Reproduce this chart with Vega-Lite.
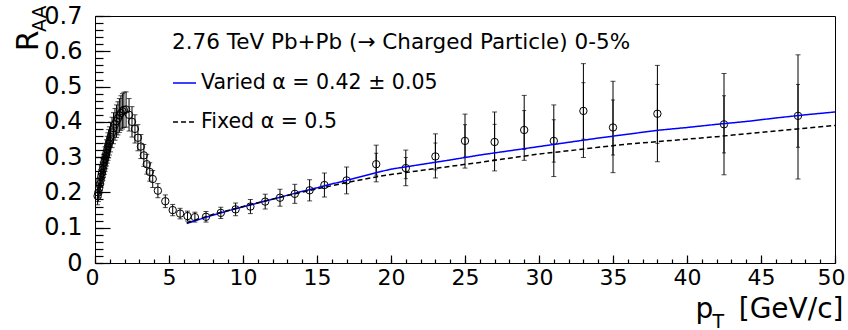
{
  "$schema": "https://vega.github.io/schema/vega-lite/v6.json",
  "width": 740,
  "height": 247,
  "autosize": {"type": "none"},
  "padding": {"left": 95, "top": 16, "right": 13, "bottom": 67},
  "background": "white",
  "config": {
    "view": {"stroke": "black", "strokeWidth": 1},
    "font": "DejaVu Sans",
    "axis": {
      "labelFont": "DejaVu Sans",
      "titleFont": "DejaVu Sans",
      "labelColor": "black",
      "titleColor": "black",
      "titleFontWeight": "normal",
      "tickColor": "black",
      "tickWidth": 1.2,
      "tickOpacity": 1,
      "grid": false,
      "domain": false,
      "labelFlush": false,
      "labelOverlap": false,
      "zindex": 1
    },
    "legend": {
      "orient": "none",
      "legendX": 77,
      "legendY": 16,
      "titleFont": "DejaVu Sans",
      "titleFontSize": 21.5,
      "titleFontWeight": "normal",
      "titleColor": "black",
      "titleLimit": 700,
      "titlePadding": 17,
      "labelFont": "DejaVu Sans",
      "labelFontSize": 20.5,
      "labelColor": "black",
      "labelLimit": 500,
      "labelOffset": 4,
      "symbolType": "stroke",
      "symbolSize": 529,
      "symbolStrokeWidth": 1.5,
      "rowPadding": 16,
      "padding": 0
    }
  },
  "datasets": {
    "pts": [
      {"pt": 0.175, "r": 0.19, "lo": 0.165, "hi": 0.215},
      {"pt": 0.225, "r": 0.2, "lo": 0.174, "hi": 0.226},
      {"pt": 0.275, "r": 0.212, "lo": 0.185, "hi": 0.239},
      {"pt": 0.325, "r": 0.224, "lo": 0.196, "hi": 0.252},
      {"pt": 0.375, "r": 0.235, "lo": 0.206, "hi": 0.264},
      {"pt": 0.425, "r": 0.245, "lo": 0.215, "hi": 0.275},
      {"pt": 0.475, "r": 0.255, "lo": 0.224, "hi": 0.286},
      {"pt": 0.525, "r": 0.265, "lo": 0.233, "hi": 0.297},
      {"pt": 0.575, "r": 0.275, "lo": 0.242, "hi": 0.308},
      {"pt": 0.625, "r": 0.285, "lo": 0.251, "hi": 0.319},
      {"pt": 0.675, "r": 0.294, "lo": 0.259, "hi": 0.329},
      {"pt": 0.725, "r": 0.303, "lo": 0.267, "hi": 0.339},
      {"pt": 0.775, "r": 0.312, "lo": 0.275, "hi": 0.349},
      {"pt": 0.825, "r": 0.321, "lo": 0.283, "hi": 0.359},
      {"pt": 0.875, "r": 0.33, "lo": 0.291, "hi": 0.369},
      {"pt": 0.925, "r": 0.338, "lo": 0.298, "hi": 0.378},
      {"pt": 0.975, "r": 0.346, "lo": 0.306, "hi": 0.386},
      {"pt": 1.05, "r": 0.357, "lo": 0.315, "hi": 0.399},
      {"pt": 1.15, "r": 0.37, "lo": 0.327, "hi": 0.413},
      {"pt": 1.25, "r": 0.382, "lo": 0.338, "hi": 0.426},
      {"pt": 1.35, "r": 0.393, "lo": 0.348, "hi": 0.438},
      {"pt": 1.45, "r": 0.402, "lo": 0.356, "hi": 0.448},
      {"pt": 1.55, "r": 0.41, "lo": 0.363, "hi": 0.457},
      {"pt": 1.65, "r": 0.418, "lo": 0.37, "hi": 0.466},
      {"pt": 1.75, "r": 0.425, "lo": 0.376, "hi": 0.474},
      {"pt": 1.85, "r": 0.43, "lo": 0.38, "hi": 0.48},
      {"pt": 1.95, "r": 0.434, "lo": 0.384, "hi": 0.484},
      {"pt": 2.1, "r": 0.435, "lo": 0.385, "hi": 0.485},
      {"pt": 2.3, "r": 0.42, "lo": 0.374, "hi": 0.466},
      {"pt": 2.5, "r": 0.4, "lo": 0.357, "hi": 0.443},
      {"pt": 2.7, "r": 0.38, "lo": 0.34, "hi": 0.42},
      {"pt": 2.9, "r": 0.355, "lo": 0.318, "hi": 0.392},
      {"pt": 3.1, "r": 0.33, "lo": 0.296, "hi": 0.364},
      {"pt": 3.3, "r": 0.305, "lo": 0.274, "hi": 0.336},
      {"pt": 3.5, "r": 0.28, "lo": 0.252, "hi": 0.308},
      {"pt": 3.7, "r": 0.258, "lo": 0.232, "hi": 0.284},
      {"pt": 3.9, "r": 0.238, "lo": 0.214, "hi": 0.262},
      {"pt": 4.25, "r": 0.205, "lo": 0.185, "hi": 0.225},
      {"pt": 4.75, "r": 0.175, "lo": 0.157, "hi": 0.193},
      {"pt": 5.25, "r": 0.15, "lo": 0.134, "hi": 0.166},
      {"pt": 5.75, "r": 0.14, "lo": 0.125, "hi": 0.155},
      {"pt": 6.25, "r": 0.133, "lo": 0.119, "hi": 0.147},
      {"pt": 6.75, "r": 0.13, "lo": 0.116, "hi": 0.144},
      {"pt": 7.5, "r": 0.131, "lo": 0.116, "hi": 0.146},
      {"pt": 8.5, "r": 0.142, "lo": 0.126, "hi": 0.158},
      {"pt": 9.5, "r": 0.152, "lo": 0.134, "hi": 0.17},
      {"pt": 10.5, "r": 0.16, "lo": 0.14, "hi": 0.18},
      {"pt": 11.5, "r": 0.174, "lo": 0.153, "hi": 0.195},
      {"pt": 12.5, "r": 0.185, "lo": 0.161, "hi": 0.209},
      {"pt": 13.5, "r": 0.196, "lo": 0.169, "hi": 0.223},
      {"pt": 14.5, "r": 0.206, "lo": 0.176, "hi": 0.236},
      {"pt": 15.5, "r": 0.221, "lo": 0.187, "hi": 0.255},
      {"pt": 17, "r": 0.234, "lo": 0.196, "hi": 0.272},
      {"pt": 19, "r": 0.28, "lo": 0.23, "hi": 0.334},
      {"pt": 21, "r": 0.269, "lo": 0.219, "hi": 0.32},
      {"pt": 23, "r": 0.302, "lo": 0.241, "hi": 0.366},
      {"pt": 25, "r": 0.346, "lo": 0.269, "hi": 0.422},
      {"pt": 27, "r": 0.343, "lo": 0.261, "hi": 0.428},
      {"pt": 29, "r": 0.377, "lo": 0.291, "hi": 0.475},
      {"pt": 31, "r": 0.346, "lo": 0.245, "hi": 0.448},
      {"pt": 33, "r": 0.431, "lo": 0.299, "hi": 0.565},
      {"pt": 35, "r": 0.384, "lo": 0.256, "hi": 0.515},
      {"pt": 38, "r": 0.423, "lo": 0.287, "hi": 0.56},
      {"pt": 42.5, "r": 0.393, "lo": 0.25, "hi": 0.537},
      {"pt": 47.5, "r": 0.417, "lo": 0.238, "hi": 0.59}
    ],
    "stat": [
      {"pt": 19, "slo": 0.249, "shi": 0.311},
      {"pt": 21, "slo": 0.239, "shi": 0.299},
      {"pt": 23, "slo": 0.264, "shi": 0.34},
      {"pt": 25, "slo": 0.3, "shi": 0.392},
      {"pt": 27, "slo": 0.293, "shi": 0.393},
      {"pt": 29, "slo": 0.322, "shi": 0.432},
      {"pt": 31, "slo": 0.286, "shi": 0.406},
      {"pt": 33, "slo": 0.351, "shi": 0.511},
      {"pt": 35, "slo": 0.306, "shi": 0.462},
      {"pt": 38, "slo": 0.339, "shi": 0.506},
      {"pt": 42.5, "slo": 0.312, "shi": 0.474},
      {"pt": 47.5, "slo": 0.328, "shi": 0.506}
    ],
    "curves": [
      {"model": "Varied α = 0.42 ± 0.05", "pt": 6.2, "r": 0.112},
      {"model": "Varied α = 0.42 ± 0.05", "pt": 7, "r": 0.123},
      {"model": "Varied α = 0.42 ± 0.05", "pt": 8, "r": 0.136},
      {"model": "Varied α = 0.42 ± 0.05", "pt": 9, "r": 0.148},
      {"model": "Varied α = 0.42 ± 0.05", "pt": 10, "r": 0.159},
      {"model": "Varied α = 0.42 ± 0.05", "pt": 11, "r": 0.17},
      {"model": "Varied α = 0.42 ± 0.05", "pt": 12, "r": 0.181},
      {"model": "Varied α = 0.42 ± 0.05", "pt": 13, "r": 0.192},
      {"model": "Varied α = 0.42 ± 0.05", "pt": 14, "r": 0.203},
      {"model": "Varied α = 0.42 ± 0.05", "pt": 15, "r": 0.213},
      {"model": "Varied α = 0.42 ± 0.05", "pt": 16, "r": 0.224},
      {"model": "Varied α = 0.42 ± 0.05", "pt": 17, "r": 0.234},
      {"model": "Varied α = 0.42 ± 0.05", "pt": 18, "r": 0.245},
      {"model": "Varied α = 0.42 ± 0.05", "pt": 19, "r": 0.256},
      {"model": "Varied α = 0.42 ± 0.05", "pt": 20, "r": 0.266},
      {"model": "Varied α = 0.42 ± 0.05", "pt": 22, "r": 0.279},
      {"model": "Varied α = 0.42 ± 0.05", "pt": 24, "r": 0.292},
      {"model": "Varied α = 0.42 ± 0.05", "pt": 26, "r": 0.306},
      {"model": "Varied α = 0.42 ± 0.05", "pt": 28, "r": 0.318},
      {"model": "Varied α = 0.42 ± 0.05", "pt": 30, "r": 0.33},
      {"model": "Varied α = 0.42 ± 0.05", "pt": 32, "r": 0.342},
      {"model": "Varied α = 0.42 ± 0.05", "pt": 34, "r": 0.354},
      {"model": "Varied α = 0.42 ± 0.05", "pt": 36, "r": 0.365},
      {"model": "Varied α = 0.42 ± 0.05", "pt": 38, "r": 0.376},
      {"model": "Varied α = 0.42 ± 0.05", "pt": 40, "r": 0.384},
      {"model": "Varied α = 0.42 ± 0.05", "pt": 42, "r": 0.393},
      {"model": "Varied α = 0.42 ± 0.05", "pt": 44, "r": 0.401},
      {"model": "Varied α = 0.42 ± 0.05", "pt": 46, "r": 0.411},
      {"model": "Varied α = 0.42 ± 0.05", "pt": 48, "r": 0.42},
      {"model": "Varied α = 0.42 ± 0.05", "pt": 50, "r": 0.428},
      {"model": "Fixed α = 0.5", "pt": 6.2, "r": 0.114},
      {"model": "Fixed α = 0.5", "pt": 7, "r": 0.125},
      {"model": "Fixed α = 0.5", "pt": 8, "r": 0.138},
      {"model": "Fixed α = 0.5", "pt": 9, "r": 0.149},
      {"model": "Fixed α = 0.5", "pt": 10, "r": 0.16},
      {"model": "Fixed α = 0.5", "pt": 11, "r": 0.171},
      {"model": "Fixed α = 0.5", "pt": 12, "r": 0.181},
      {"model": "Fixed α = 0.5", "pt": 13, "r": 0.191},
      {"model": "Fixed α = 0.5", "pt": 14, "r": 0.201},
      {"model": "Fixed α = 0.5", "pt": 15, "r": 0.21},
      {"model": "Fixed α = 0.5", "pt": 16, "r": 0.219},
      {"model": "Fixed α = 0.5", "pt": 17, "r": 0.228},
      {"model": "Fixed α = 0.5", "pt": 18, "r": 0.236},
      {"model": "Fixed α = 0.5", "pt": 19, "r": 0.244},
      {"model": "Fixed α = 0.5", "pt": 20, "r": 0.251},
      {"model": "Fixed α = 0.5", "pt": 22, "r": 0.262},
      {"model": "Fixed α = 0.5", "pt": 24, "r": 0.274},
      {"model": "Fixed α = 0.5", "pt": 26, "r": 0.285},
      {"model": "Fixed α = 0.5", "pt": 28, "r": 0.297},
      {"model": "Fixed α = 0.5", "pt": 30, "r": 0.309},
      {"model": "Fixed α = 0.5", "pt": 32, "r": 0.318},
      {"model": "Fixed α = 0.5", "pt": 34, "r": 0.328},
      {"model": "Fixed α = 0.5", "pt": 36, "r": 0.337},
      {"model": "Fixed α = 0.5", "pt": 38, "r": 0.344},
      {"model": "Fixed α = 0.5", "pt": 40, "r": 0.351},
      {"model": "Fixed α = 0.5", "pt": 42, "r": 0.358},
      {"model": "Fixed α = 0.5", "pt": 44, "r": 0.366},
      {"model": "Fixed α = 0.5", "pt": 46, "r": 0.374},
      {"model": "Fixed α = 0.5", "pt": 48, "r": 0.382},
      {"model": "Fixed α = 0.5", "pt": 50, "r": 0.39}
    ]
  },
  "layer": [
    {
      "data": {"name": "pts"},
      "mark": {"type": "errorbar", "ticks": {"size": 5}, "color": "black", "thickness": 1},
      "encoding": {
        "x": {
          "field": "pt", "type": "quantitative",
          "scale": {"domain": [0, 50], "nice": false, "zero": false},
          "axis": {"orient": "bottom", "tickCount": 50, "ticks": true, "tickSize": -4, "labels": false,
                   "title": "p", "titleFontSize": 28, "titleX": 600, "titleY": 54,
                   "titleAlign": "left", "titleBaseline": "alphabetic"}
        },
        "y": {
          "field": "lo", "type": "quantitative",
          "scale": {"domain": [0, 0.7], "nice": false},
          "axis": {"orient": "left", "tickCount": 35, "ticks": true, "tickSize": -8, "labels": false, "title": null}
        },
        "y2": {"field": "hi"}
      }
    },
    {
      "data": {"name": "stat"},
      "mark": {"type": "errorbar", "ticks": {"size": 4}, "color": "black", "thickness": 1},
      "encoding": {
        "x": {
          "field": "pt", "type": "quantitative",
          "scale": {"domain": [0, 50], "nice": false, "zero": false},
          "axis": {"orient": "bottom", "ticks": false, "labels": false,
                   "title": "T", "titleFontSize": 19, "titleX": 617, "titleY": 64,
                   "titleAlign": "left", "titleBaseline": "alphabetic"}
        },
        "y": {
          "field": "slo", "type": "quantitative",
          "scale": {"domain": [0, 0.7], "nice": false},
          "axis": {"orient": "left", "ticks": false, "labels": false,
                   "title": "AA", "titleFontSize": 19, "titleAngle": -90, "titleX": -50, "titleY": -11,
                   "titleAlign": "right", "titleBaseline": "alphabetic"}
        },
        "y2": {"field": "shi"}
      }
    },
    {
      "data": {"name": "pts"},
      "mark": {"type": "point", "shape": "circle", "filled": false, "color": "black", "size": 55, "strokeWidth": 1, "opacity": 1},
      "encoding": {
        "x": {
          "field": "pt", "type": "quantitative",
          "scale": {"domain": [0, 50], "nice": false, "zero": false},
          "axis": {"orient": "bottom", "tickCount": 10, "ticks": true, "tickSize": -8, "labelFontSize": 22, "labelPadding": 12,
                   "labelFlush": true, "labelFlushOffset": 10,
                   "title": "[GeV/c]", "titleFontSize": 28, "titleX": 748, "titleY": 54,
                   "titleAlign": "right", "titleBaseline": "alphabetic"}
        },
        "y": {
          "field": "r", "type": "quantitative",
          "scale": {"domain": [0, 0.7], "nice": false},
          "axis": {"orient": "left", "tickCount": 7, "ticks": true, "tickSize": -15, "labelFontSize": 24, "labelPadding": 28,
                   "format": "~g",
                   "title": "R", "titleFontSize": 30, "titleAngle": -90, "titleX": -58, "titleY": 14,
                   "titleAlign": "right", "titleBaseline": "alphabetic"}
        }
      }
    },
    {
      "data": {"name": "curves"},
      "mark": {"type": "line", "strokeWidth": 1.5},
      "encoding": {
        "x": {"field": "pt", "type": "quantitative", "scale": {"domain": [0, 50], "nice": false, "zero": false}, "axis": null},
        "y": {"field": "r", "type": "quantitative", "scale": {"domain": [0, 0.7], "nice": false}, "axis": null},
        "color": {
          "field": "model", "type": "nominal",
          "scale": {"domain": ["Varied α = 0.42 ± 0.05", "Fixed α = 0.5"], "range": ["#0000ff", "#000000"]},
          "legend": {"title": "2.76 TeV Pb+Pb (→ Charged Particle) 0-5%", "labelExpr": "replace(replace(replace(datum.label, ' α ', ' α '), ' = ', ' = '), ' ± ', ' ± ')"}
        },
        "strokeDash": {
          "field": "model", "type": "nominal",
          "scale": {"domain": ["Varied α = 0.42 ± 0.05", "Fixed α = 0.5"], "range": [[1, 0], [5, 3]]},
          "legend": {"title": "2.76 TeV Pb+Pb (→ Charged Particle) 0-5%", "labelExpr": "replace(replace(replace(datum.label, ' α ', ' α '), ' = ', ' = '), ' ± ', ' ± ')"}
        }
      }
    }
  ],
  "resolve": {"axis": {"x": "independent", "y": "independent"}}
}
